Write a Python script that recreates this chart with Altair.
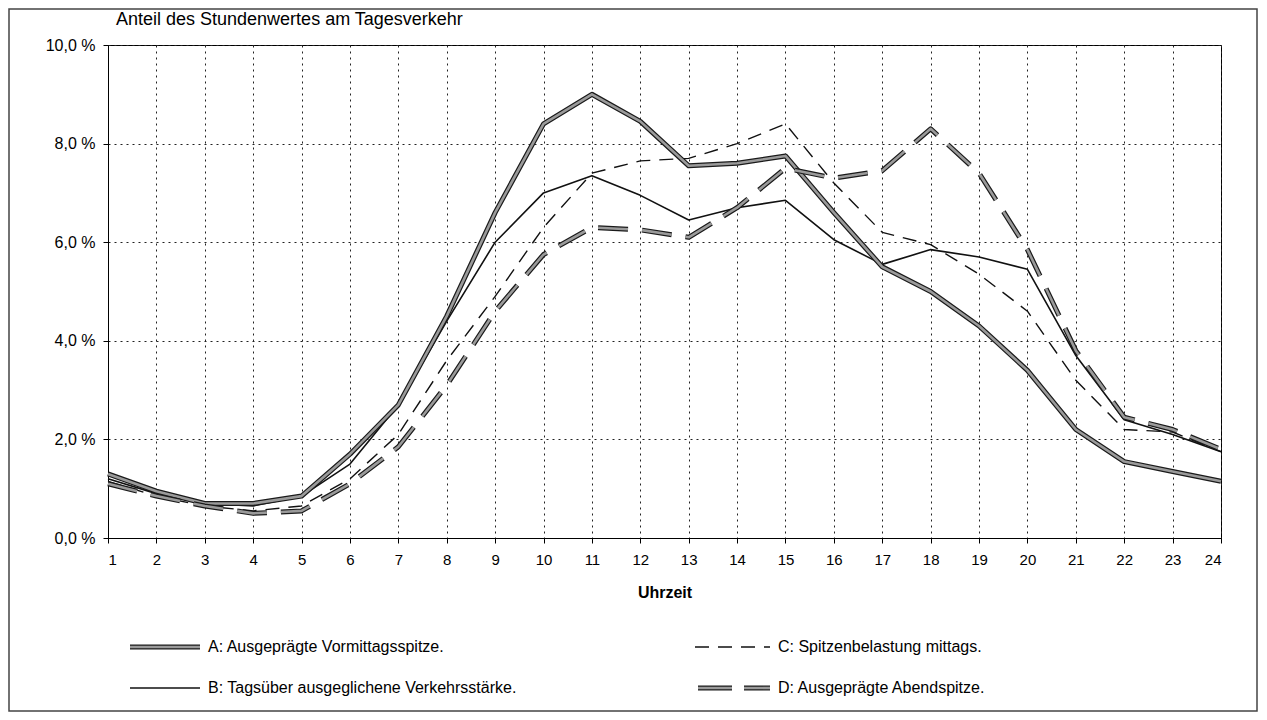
import altair as alt
import pandas as pd

hours = list(range(1, 25))

series_names = ["A", "B", "C", "D"]
series_a = [1.3, 0.95, 0.7, 0.7, 0.85, 1.7, 2.7, 4.5, 6.6, 8.4, 9.0, 8.45,
            7.55, 7.6, 7.75, 6.6, 5.5, 5.0, 4.3, 3.4, 2.2, 1.55, 1.35, 1.15]
series_b = [1.2, 0.9, 0.7, 0.65, 0.85, 1.5, 2.7, 4.4, 6.0, 7.0, 7.35, 6.95,
            6.45, 6.7, 6.85, 6.05, 5.55, 5.85, 5.7, 5.45, 3.7, 2.4, 2.1, 1.75]
series_c = [1.15, 0.85, 0.65, 0.55, 0.65, 1.2, 2.1, 3.6, 4.9, 6.3, 7.4, 7.65,
            7.7, 8.0, 8.4, 7.2, 6.2, 5.95, 5.35, 4.6, 3.2, 2.2, 2.15, 1.75]
series_d = [1.1, 0.85, 0.65, 0.5, 0.55, 1.1, 1.85, 3.1, 4.6, 5.75, 6.3, 6.25,
            6.1, 6.7, 7.5, 7.3, 7.45, 8.3, 7.4, 5.85, 3.8, 2.45, 2.2, 1.8]

legend_labels = [
    "A: Ausgeprägte Vormittagsspitze.",
    "B: Tagsüber ausgeglichene Verkehrsstärke.",
    "C: Spitzenbelastung mittags.",
    "D: Ausgeprägte Abendspitze.",
]
y_ticks = [0, 2, 4, 6, 8, 10]
title_text = "Anteil des Stundenwertes am Tagesverkehr"
x_title = "Uhrzeit"

rows = []
for name, vals in zip(series_names, [series_a, series_b, series_c, series_d]):
    for h, v in zip(hours, vals):
        rows.append({"hour": h, "value": v, "series": name})
df = pd.DataFrame(rows)

W, H = 1113, 493
PAD_L, PAD_T, PAD_R, PAD_B = 100, 37, 37, 174
FONT = "Liberation Sans"

x_enc = alt.X(
    "hour:Q",
    scale=alt.Scale(domain=[1, 24], nice=False, zero=False),
    axis=alt.Axis(values=hours, format="d", title=x_title, tickSize=5,
                  labelPadding=9, titlePadding=17, titleFontSize=16,
                  titleFontWeight="bold", labelFontSize=15, grid=True),
)
y_enc = alt.Y(
    "value:Q",
    scale=alt.Scale(domain=[0, 10], nice=False, zero=True),
    axis=alt.Axis(values=y_ticks, title=None, tickSize=5, labelPadding=8,
                  labelFontSize=16, grid=True,
                  labelExpr="replace(format(datum.value, '.1f'), '.', ',') + ' %'"),
)


def line_layer(name, width, color, dash=None):
    props = dict(strokeWidth=width, color=color, strokeJoin="round", strokeCap="butt")
    if dash:
        props["strokeDash"] = dash
    return (alt.Chart(df).transform_filter(alt.datum.series == name)
            .mark_line(**props).encode(x=x_enc, y=y_enc))


DASH_C = [14, 9]
DASH_D = [30, 14]
OUT = "#1a1a1a"
FILL = "#9a9a9a"

layers = [
    line_layer("B", 1.6, "#111111"),
    line_layer("C", 1.4, "#111111", DASH_C),
    line_layer("A", 5, OUT),
    line_layer("A", 2.6, FILL),
    line_layer("D", 5, OUT, DASH_D),
    line_layer("D", 2.6, FILL, DASH_D),
]

# legend (layout positions only)
leg_specs = [
    (legend_labels[0], 22, 92, 602, "thick", None),
    (legend_labels[1], 22, 92, 643, "thin", None),
    (legend_labels[2], 587, 662, 602, "thin", DASH_C),
    (legend_labels[3], 590, 662, 643, "thick", [34, 12]),
]
for label, x0, x1, yv, kind, dash in leg_specs:
    ldf = pd.DataFrame({"t": [label]})
    base = alt.Chart(ldf)
    if kind == "thick":
        p1 = dict(strokeWidth=5, color=OUT)
        p2 = dict(strokeWidth=2.6, color=FILL)
        if dash:
            p1["strokeDash"] = dash
            p2["strokeDash"] = dash
        layers.append(base.mark_rule(**p1).encode(x=alt.value(x0), x2=alt.value(x1), y=alt.value(yv)))
        layers.append(base.mark_rule(**p2).encode(x=alt.value(x0), x2=alt.value(x1), y=alt.value(yv)))
    else:
        p = dict(strokeWidth=1.6, color="#111111")
        if dash:
            p["strokeDash"] = dash
        layers.append(base.mark_rule(**p).encode(x=alt.value(x0), x2=alt.value(x1), y=alt.value(yv)))
    layers.append(base.mark_text(align="left", baseline="middle", fontSize=16, font=FONT,
                                 color="black")
                  .encode(x=alt.value(x1 + 8), y=alt.value(yv), text="t:N"))

# title as text
layers.append(alt.Chart(pd.DataFrame({"t": [title_text]})).mark_text(
    align="left", baseline="middle", fontSize=18, font=FONT, color="black"
).encode(x=alt.value(8), y=alt.value(-25), text="t:N"))

# outer frame
frame = alt.Chart(pd.DataFrame({"f": [0]})).mark_rect(
    fill=None, stroke="#444444", strokeWidth=1.5
).encode(x=alt.value(-PAD_L + 1), x2=alt.value(W + PAD_R - 1),
         y=alt.value(-PAD_T + 1), y2=alt.value(H + PAD_B - 1))
layers.append(frame)

chart = alt.layer(*layers).properties(
    width=W, height=H,
    background="white",
    autosize=alt.AutoSizeParams(type="none"),
    padding={"left": PAD_L, "top": PAD_T, "right": PAD_R, "bottom": PAD_B},
).configure_view(
    stroke="black", strokeWidth=1
).configure_axis(
    domainColor="black", tickColor="black", labelColor="black", titleColor="black",
    labelFont=FONT, titleFont=FONT, gridColor="#222222", gridDash=[2, 4],
    gridOpacity=1, gridWidth=1, domainWidth=1,
)

chart.save("out.html", embed_options={"renderer": "svg", "actions": False})
